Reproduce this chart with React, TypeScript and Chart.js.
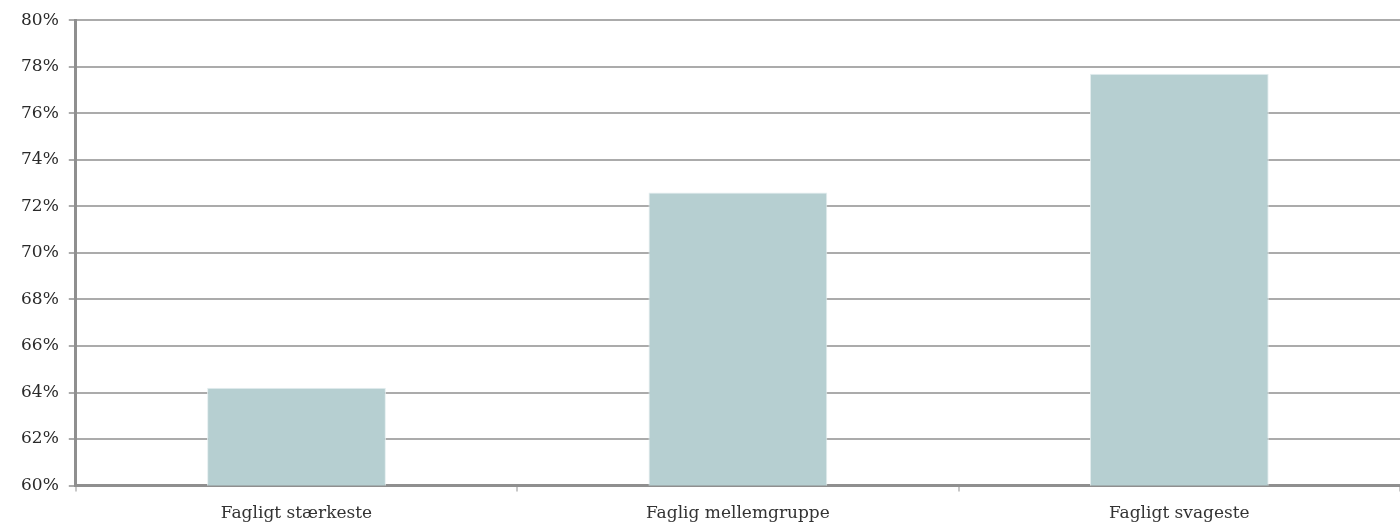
import React, { useEffect, useRef } from "react";
import { Chart, registerables } from "chart.js";

Chart.register(...registerables);

const categories = ["Fagligt stærkeste", "Faglig mellemgruppe", "Fagligt svageste"];
const values = [64.2, 72.6, 77.7];
const yTicks = [60, 62, 64, 66, 68, 70, 72, 74, 76, 78, 80];

export default function App() {
  const ref = useRef<HTMLCanvasElement | null>(null);
  useEffect(() => {
    document.body.style.margin = "0";
    const ctx = ref.current!;
    const chart = new Chart(ctx, {
      type: "bar",
      data: {
        labels: categories,
        datasets: [
          {
            data: values,
            backgroundColor: "#b6cfd1",
            borderColor: "#e4eeef",
            borderWidth: 1,
            categoryPercentage: 1,
            barPercentage: 0.405,
          },
        ],
      },
      options: {
        animation: false,
        responsive: false,
        maintainAspectRatio: false,
        layout: { padding: { top: 17, right: 0, left: 11, bottom: -11 } },
        plugins: { legend: { display: false }, tooltip: { enabled: false } },
        scales: {
          x: {
            grid: {
              offset: true,
              drawOnChartArea: false,
              drawTicks: true,
              tickLength: 6,
              color: "#c8c8c8",
              lineWidth: 2,
            },
            border: { color: "#8f8f8f", width: 3 },
            ticks: {
              color: "#333",
              font: { family: "DejaVu Serif", size: 17 },
              padding: 12,
            },
          },
          y: {
            min: 60,
            max: 80,
            afterBuildTicks: (axis: any) => {
              axis.ticks = yTicks.map((v) => ({ value: v }));
            },
            grid: {
              color: "#ababab",
              lineWidth: 2,
              tickLength: 7,
            },
            border: { color: "#8f8f8f", width: 3 },
            ticks: {
              color: "#2a2a2a",
              font: { family: "DejaVu Serif", size: 17 },
              padding: 10,
              callback: (v: any) => v + "%",
            },
          },
        },
      },
    } as any);
    return () => chart.destroy();
  }, []);
  return <canvas ref={ref} width={1400} height={525} style={{ display: "block" }} />;
}
